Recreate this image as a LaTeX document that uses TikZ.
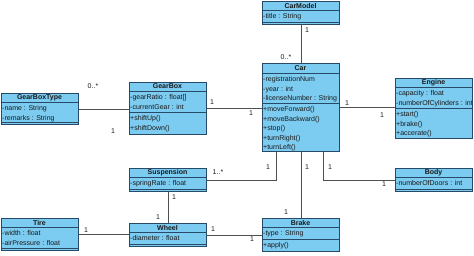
\documentclass[tikz,border=0pt]{standalone}
\usepackage{fontspec}
\setmainfont{Liberation Sans}
\usetikzlibrary{calc}
\definecolor{ink}{HTML}{1A1A1A}
\definecolor{edge}{HTML}{274A68}
\definecolor{sky}{HTML}{7CCBF0}
\definecolor{wire}{HTML}{505050}
\tikzset{
  every picture/.style={text=ink},
  cls/.style={draw=edge, fill=sky, line width=0.8pt, anchor=north west, inner sep=0pt, minimum width=77pt},
  head/.style={font=\fontsize{7}{8}\selectfont\bfseries, inner sep=0pt},
  rows/.style={font=\fontsize{7}{9.5}\selectfont, align=left, anchor=north west, inner sep=0pt, yshift=-1.5pt},
  sep/.style={draw=edge, line width=0.8pt},
  link/.style={draw=wire, line width=0.7pt},
  mult/.style={font=\fontsize{7}{8}\selectfont, inner sep=0pt},
}

\begin{document}
\begin{tikzpicture}[x=1pt, y=-1pt]
\useasboundingbox (0,0) rectangle (474,255);
\def\w{77}
% class boxes
\node[cls, minimum height=23pt] (carmodel) at (262,1) {};
\node[cls, minimum height=88pt] (car) at (262,63) {};
\node[cls, minimum height=31pt] (gearboxtype) at (1,93) {};
\node[cls, minimum height=52pt] (gearbox) at (129,82) {};
\node[cls, minimum height=60pt] (engine) at (395,78) {};
\node[cls, minimum height=23pt] (suspension) at (129,168) {};
\node[cls, minimum height=23pt] (body) at (395,168) {};
\node[cls, minimum height=32pt] (tire) at (1,218) {};
\node[cls, minimum height=23pt] (wheel) at (129,223) {};
\node[cls, minimum height=33pt] (brake) at (262,218) {};
% compartments
\draw[sep] (262,10) -- ++(\w,0) (262,22) -- ++(\w,0);
\draw[sep] (262,73) -- ++(\w,0) (262,103) -- ++(\w,0);
\draw[sep] (1,102) -- ++(\w,0) (1,122) -- ++(\w,0);
\draw[sep] (129,91) -- ++(\w,0) (129,112) -- ++(\w,0);
\draw[sep] (395,87) -- ++(\w,0) (395,108) -- ++(\w,0);
\draw[sep] (129,177) -- ++(\w,0) (129,189) -- ++(\w,0);
\draw[sep] (395,177) -- ++(\w,0) (395,189) -- ++(\w,0);
\draw[sep] (1,227) -- ++(\w,0) (1,248) -- ++(\w,0);
\draw[sep] (129,232) -- ++(\w,0) (129,244) -- ++(\w,0);
\draw[sep] (262,227) -- ++(\w,0) (262,239) -- ++(\w,0);
% names
\node[head] (carmodel-t) at (300.5,5.5) {CarModel};
\node[head] (car-t) at (300.5,68) {Car};
\node[head] (gearboxtype-t) at (39.5,97.5) {GearBoxType};
\node[head] (gearbox-t) at (167.5,86.5) {GearBox};
\node[head] (engine-t) at (433.5,82.5) {Engine};
\node[head] (suspension-t) at (167.5,172.5) {Suspension};
\node[head] (body-t) at (433.5,172.5) {Body};
\node[head] (tire-t) at (39.5,222.5) {Tire};
\node[head] (wheel-t) at (167.5,227.5) {Wheel};
\node[head] (brake-t) at (300.5,222.5) {Brake};
% attributes and operations
\node[rows] (carmodel-a) at (263,12) {-title : String};
\node[rows] (car-a) at (263,75) {-registrationNum\\-year : int\\-licenseNumber : String};
\node[rows] (car-o) at (263,105) {+moveForward()\\+moveBackward()\\+stop()\\+turnRight()\\+turnLeft()};
\node[rows] (gearboxtype-a) at (2,104) {-name : String\\-remarks : String};
\node[rows] (gearbox-a) at (130,93) {-gearRatio : float[]\\-currentGear : int};
\node[rows] (gearbox-o) at (130,114) {+shiftUp()\\+shiftDown()};
\node[rows] (engine-a) at (396,89) {-capacity : float\\-numberOfCylinders : int};
\node[rows] (engine-o) at (396,110) {+start()\\+brake()\\+accerate()};
\node[rows] (suspension-a) at (130,179) {-springRate : float};
\node[rows] (body-a) at (396,179) {-numberOfDoors : int};
\node[rows] (tire-a) at (2,229) {-width : float\\-airPressure : float};
\node[rows] (wheel-a) at (130,234) {-diameter : float};
\node[rows] (brake-a) at (263,229) {-type : String};
\node[rows] (brake-o) at (263,241) {+apply()};
% associations
\draw[link] (carmodel.south) -- (car.north);
\draw[link] (gearboxtype.east) -- (gearboxtype.east -| gearbox.west);
\draw[link] (gearbox.east) -- (gearbox.east -| car.west);
\draw[link] (car.east) -- (car.east -| engine.west);
\draw[link] (suspension.east) -| ([xshift=14pt]car.south west);
\draw[link] (body.west) -| ([xshift=61pt]car.south west);
\draw[link] (car.south) -- (brake.north);
\draw[link] (suspension.south) -- (wheel.north);
\draw[link] (tire.east) -- (tire.east -| wheel.west);
\draw[link] (wheel.east) -- (wheel.east -| brake.west);
% multiplicities
\node[mult] (m1) at (307,30) {1};
\node[mult] (m2) at (286,57) {0..*};
\node[mult] (m3) at (93,86) {0..*};
\node[mult] (m4) at (113,131) {1};
\node[mult] (m5) at (212,102) {1};
\node[mult] (m6) at (251,113) {1};
\node[mult] (m7) at (347,103) {1};
\node[mult] (m8) at (382,115) {1};
\node[mult] (m9) at (218,172) {1..*};
\node[mult] (m10) at (268,167) {1};
\node[mult] (m11) at (307,167) {1};
\node[mult] (m12) at (286,212) {1};
\node[mult] (m13) at (330,167) {1};
\node[mult] (m14) at (384,184) {1};
\node[mult] (m15) at (174,197) {1};
\node[mult] (m16) at (158,217) {1};
\node[mult] (m17) at (86,230) {1};
\node[mult] (m18) at (213,229) {1};
\node[mult] (m19) at (252,239) {1};
\end{tikzpicture}
\end{document}
